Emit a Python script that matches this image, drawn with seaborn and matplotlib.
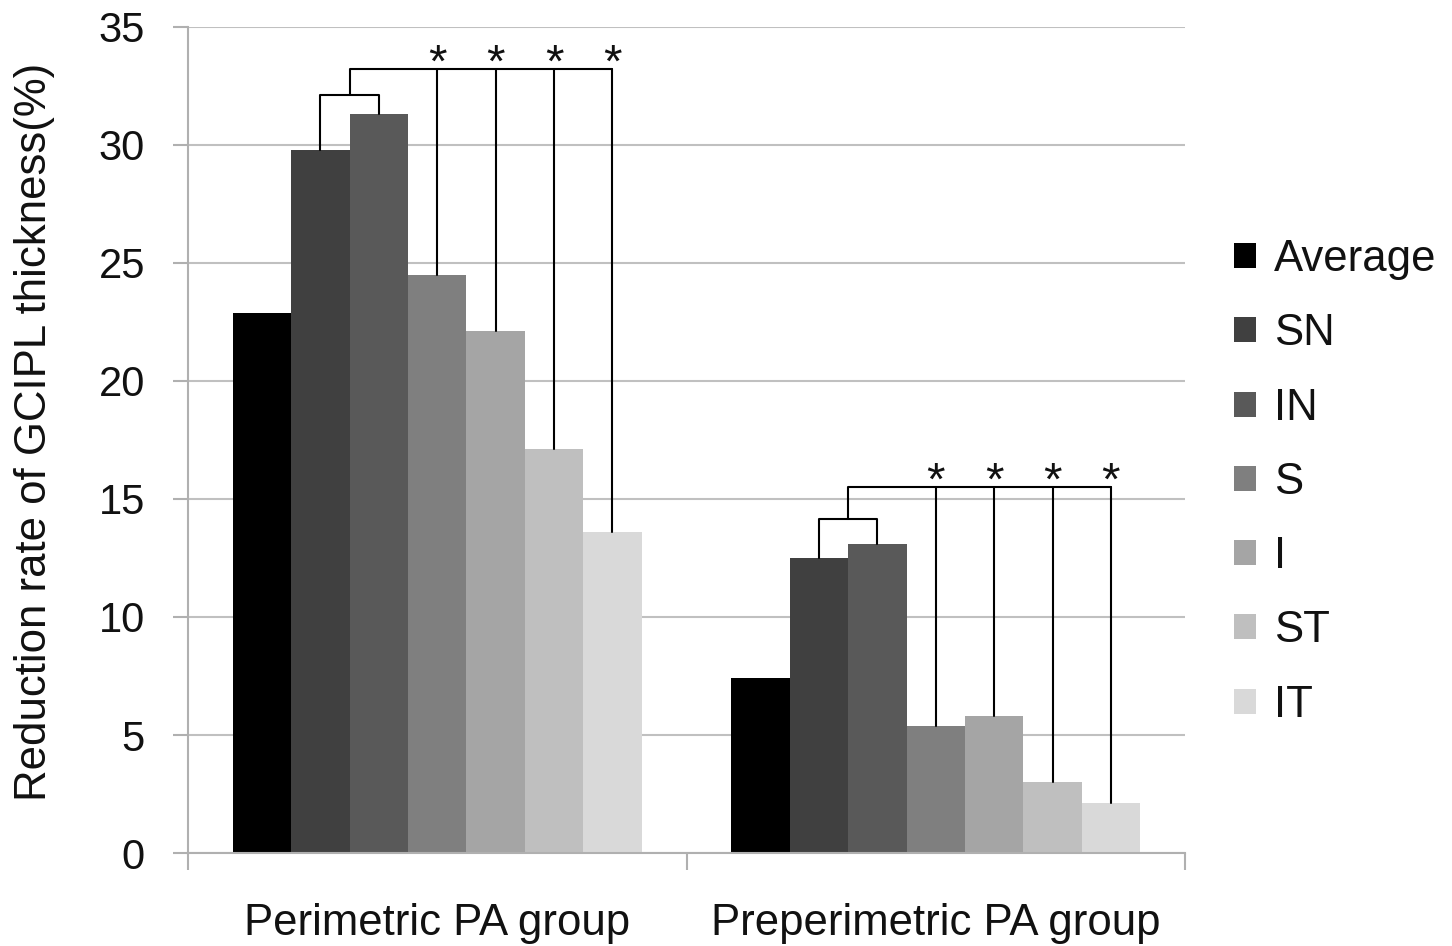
import pandas as pd
import matplotlib
matplotlib.use('Agg')
import matplotlib.pyplot as plt
import seaborn as sns

# Data
groups = ['Perimetric PA group', 'Preperimetric PA group']
sectors = ['Average', 'SN', 'IN', 'S', 'I', 'ST', 'IT']
perimetric = [22.9, 29.8, 31.3, 24.5, 22.1, 17.1, 13.6]
preperimetric = [7.4, 12.5, 13.1, 5.4, 5.8, 3.0, 2.1]
sector_colors = ['#000000', '#404040', '#595959', '#7f7f7f', '#a5a5a5', '#bfbfbf', '#d9d9d9']

# significance bracket levels (low = SN vs IN bracket, high = comparison line)
bracket_low = [32.1, 14.15]
bracket_high = [33.2, 15.5]
star_sectors = ['S', 'I', 'ST', 'IT']

rows = []
for g, vals in zip(groups, [perimetric, preperimetric]):
    for s, v in zip(sectors, vals):
        rows.append({'group': g, 'sector': s, 'value': v})
df = pd.DataFrame(rows)

sns.set_theme(style='white')
plt.rcParams['font.family'] = ['Liberation Sans', 'DejaVu Sans']

fig = plt.figure(figsize=(14.52, 9.46), dpi=100)
ax = fig.add_axes([0.1295, 0.0983, 0.6866, 0.8732])

sns.barplot(data=df, x='group', y='value', hue='sector', hue_order=sectors,
            palette=sector_colors, width=0.82, saturation=1, linewidth=0,
            errorbar=None, ax=ax)

ax.set_ylim(0, 35)
ax.set_xlim(-0.5, 1.5)
ax.set_yticks(range(0, 36, 5))
ax.yaxis.grid(True, color='#c0c0c0', linewidth=1.5)
ax.set_axisbelow(True)

for side in ['top', 'right']:
    ax.spines[side].set_visible(False)
for side in ['left', 'bottom']:
    ax.spines[side].set_color('#b0b0b0')
    ax.spines[side].set_linewidth(1.5)

ax.tick_params(axis='y', left=True, length=11, width=1.5, color='#b0b0b0',
               labelsize=30, pad=20, labelcolor='#111111')
ax.set_xticks([-0.5, 0.5, 1.5], minor=True)
ax.tick_params(axis='x', which='minor', bottom=True, length=12, width=1.5, color='#b0b0b0')
ax.tick_params(axis='x', which='major', bottom=False, labelsize=31.5, pad=30, labelcolor='#111111')

ax.set_xlabel('')
ax.set_ylabel('Reduction rate of GCIPL thickness(%)', fontsize=31.5, color='#111111')
ax.yaxis.set_label_coords(-0.133, 0.51)

# significance brackets drawn from bar centres and heights
bars = {s: ax.containers[k] for k, s in enumerate(sectors)}
for j in range(len(groups)):
    def centre(s):
        p = bars[s][j]
        return p.get_x() + p.get_width() / 2, p.get_height()
    x_sn, h_sn = centre('SN')
    x_in, h_in = centre('IN')
    low, high = bracket_low[j], bracket_high[j]
    ax.plot([x_sn, x_sn, x_in, x_in], [h_sn, low, low, h_in], color='black', lw=1.5)
    x_mid = (x_sn + x_in) / 2
    x_last = centre(star_sectors[-1])[0]
    ax.plot([x_mid, x_mid, x_last], [low, high, high], color='black', lw=1.5)
    for s in star_sectors:
        xs, hs = centre(s)
        ax.plot([xs, xs], [high, hs], color='black', lw=1.5)
        ax.text(xs, high - 0.75, '*', ha='center', va='bottom', fontsize=34, color='#111111')

handles, labels = ax.get_legend_handles_labels()
ax.legend(handles, labels, loc='center left', bbox_to_anchor=(0.835, 0.49),
          bbox_transform=fig.transFigure, frameon=False, fontsize=31.5,
          handlelength=0.5, handleheight=0.5, handletextpad=0.4,
          labelspacing=0.76, borderpad=0, labelcolor='#111111')

fig.savefig('out.png', dpi=100)
